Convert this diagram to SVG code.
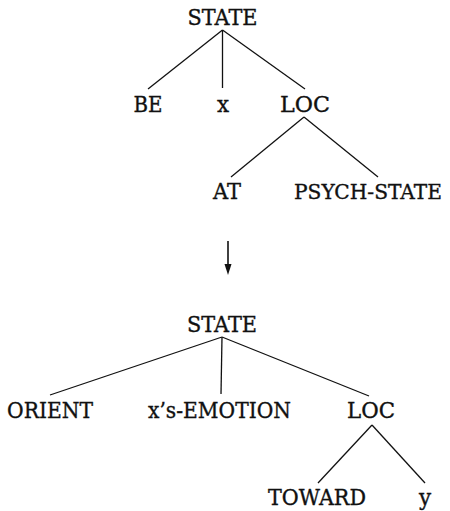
<svg xmlns="http://www.w3.org/2000/svg" width="450" height="511" viewBox="0 0 450 511">
<style>
.t{font-family:"DejaVu Serif",serif;font-size:21.5px;fill:#111;stroke:#111;stroke-width:0.35;text-anchor:middle}
line{stroke:#111;stroke-width:1.3}
</style>
<rect width="450" height="511" fill="#fff"/>
<g id="connectors">
<line x1="222.5" y1="30" x2="148" y2="89"/>
<line x1="222.5" y1="30" x2="222.5" y2="88"/>
<line x1="222.5" y1="30" x2="305" y2="89"/>
<line x1="304" y1="117" x2="231" y2="177"/>
<line x1="304" y1="117" x2="378" y2="177"/>
<line x1="228" y1="241" x2="228" y2="266" style="stroke-width:1.6"/>
<path d="M224.5,264 L231.5,264 L228,275 Z" fill="#111"/>
<line x1="222" y1="337" x2="50" y2="395"/>
<line x1="222" y1="337" x2="221" y2="394"/>
<line x1="222" y1="337" x2="369" y2="396"/>
<line x1="372" y1="425" x2="318" y2="483"/>
<line x1="372" y1="425" x2="425" y2="483"/>
</g>
<g id="state1"><text class="t" x="222.5" y="25" textLength="70" lengthAdjust="spacingAndGlyphs">STATE</text></g>
<g id="be"><text class="t" x="148" y="112" textLength="29" lengthAdjust="spacingAndGlyphs">BE</text></g>
<g id="x"><text class="t" x="223" y="112">x</text></g>
<g id="loc1"><text class="t" x="305" y="112" textLength="50" lengthAdjust="spacingAndGlyphs">LOC</text></g>
<g id="at"><text class="t" x="227" y="199" textLength="28" lengthAdjust="spacingAndGlyphs">AT</text></g>
<g id="psych-state"><text class="t" x="368" y="199" style="font-size:19.5px" textLength="148" lengthAdjust="spacingAndGlyphs">PSYCH-STATE</text></g>
<g id="state2"><text class="t" x="222" y="332" textLength="70" lengthAdjust="spacingAndGlyphs">STATE</text></g>
<g id="orient"><text class="t" x="50" y="418" textLength="86" lengthAdjust="spacingAndGlyphs">ORIENT</text></g>
<g id="emotion"><text class="t" x="219.5" y="418" textLength="143" lengthAdjust="spacingAndGlyphs">x’s-EMOTION</text></g>
<g id="loc2"><text class="t" x="371" y="418" textLength="48" lengthAdjust="spacingAndGlyphs">LOC</text></g>
<g id="toward"><text class="t" x="317" y="505" textLength="98" lengthAdjust="spacingAndGlyphs">TOWARD</text></g>
<g id="y"><text class="t" x="425" y="505">y</text></g>
</svg>
